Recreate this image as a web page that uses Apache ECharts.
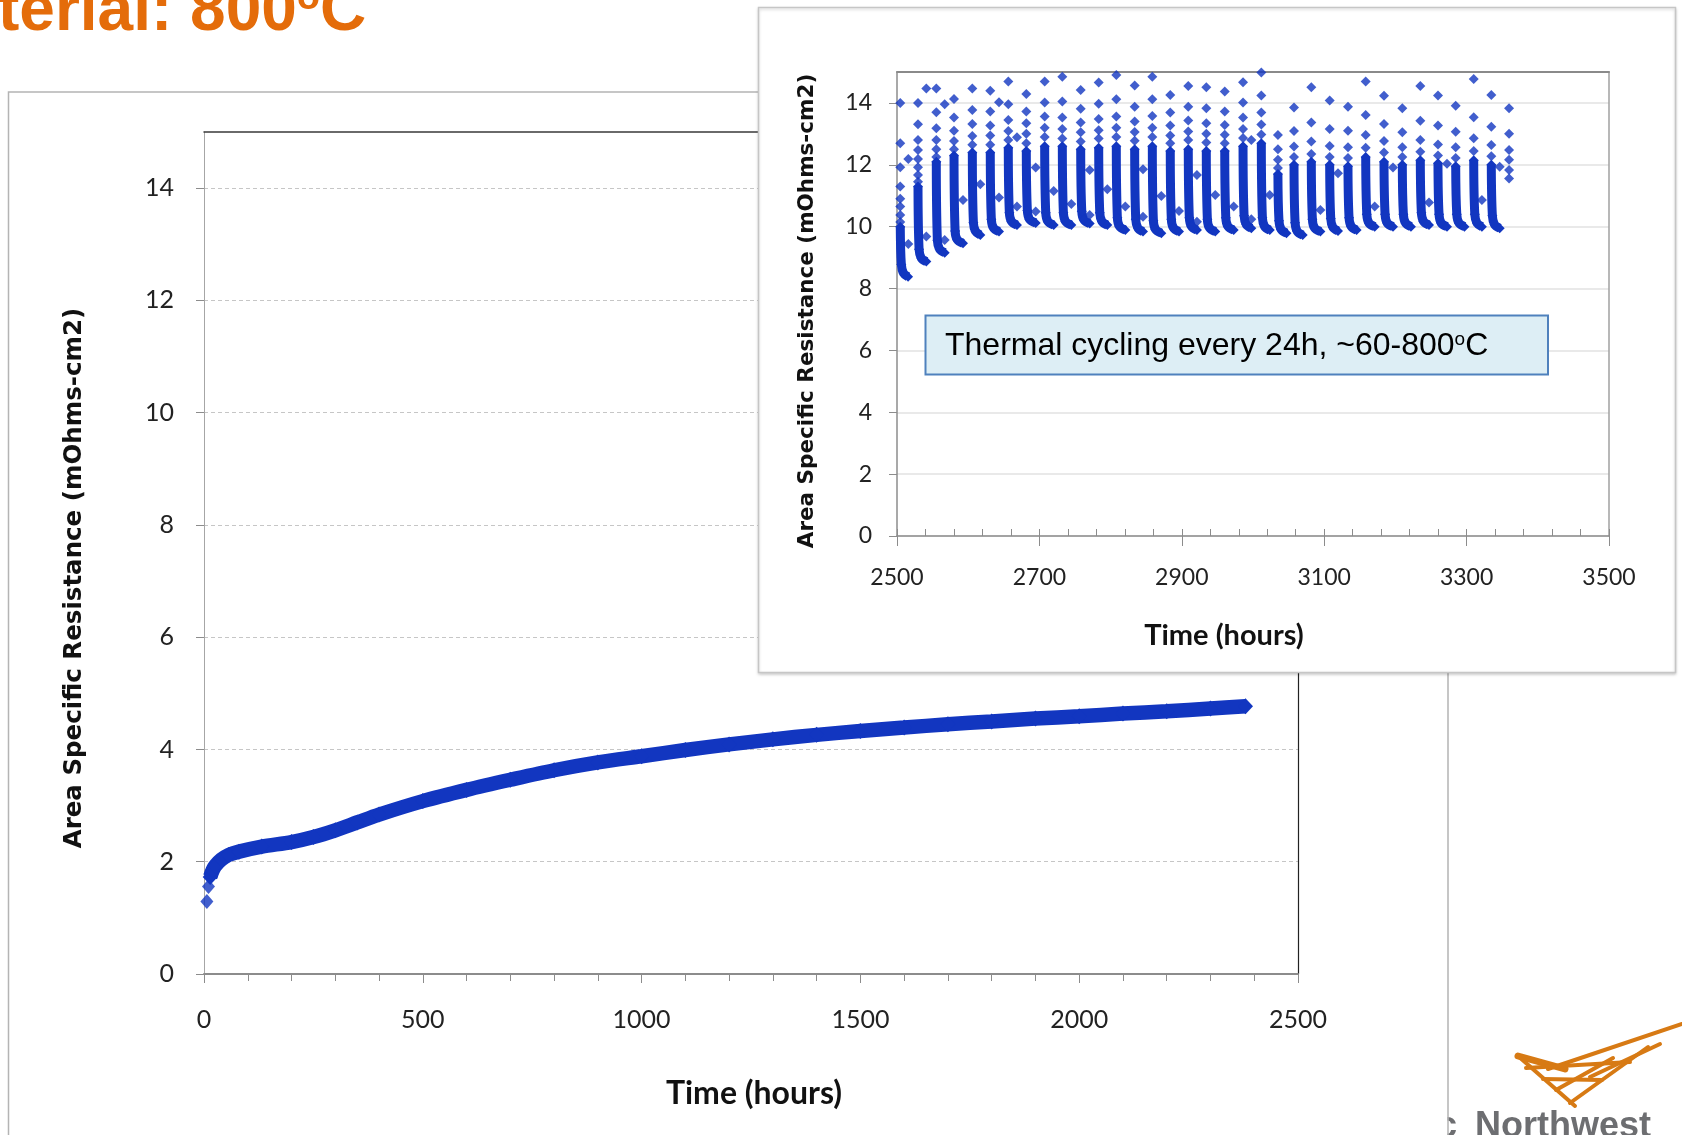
<!DOCTYPE html>
<html><head><meta charset="utf-8">
<script src="https://cdn.jsdelivr.net/npm/echarts@6/dist/echarts.min.js"></script>
<style>html,body{margin:0;padding:0;background:#fff}#c{width:1682px;height:1135px}</style>
</head><body><div id="c"></div>
<script>
// ---------------- DATA ----------------
// Main chart: ASR vs time (hours), isothermal 800C
const mainTime = [6.6, 10.3, 14.2, 20, 26, 40, 56, 80, 132, 200, 250, 300, 350, 400, 500, 600, 700, 800, 900, 1000, 1100, 1200, 1300, 1400, 1500, 1600, 1700, 1800, 1900, 2000, 2100, 2200, 2300, 2380];
const mainASR  = [1.29, 1.56, 1.73, 1.85, 1.93, 2.04, 2.12, 2.18, 2.27, 2.35, 2.44, 2.56, 2.70, 2.84, 3.08, 3.28, 3.46, 3.63, 3.77, 3.88, 3.99, 4.09, 4.18, 4.26, 4.33, 4.39, 4.45, 4.50, 4.55, 4.59, 4.64, 4.68, 4.73, 4.77];

// Inset: thermal cycling. Start time of each cycle (hours)
const cycleStart = [2504.6, 2529.5, 2555.2, 2580.1, 2605.8, 2631.0, 2656.3, 2681.6, 2707.4, 2732.2, 2758.0, 2783.3, 2808.0, 2833.8, 2858.6, 2883.8, 2909.1, 2934.4, 2960.3, 2986.0, 3011.7, 3035.0, 3057.6, 3081.9, 3107.7, 3133.4, 3158.3, 3184.0, 3209.7, 3235.0, 3259.8, 3284.7, 3310.0, 3334.7, 3359.6];
// Separate (upper) readings at the start of each cycle
const cyclePeaks = [
  [14.0, 12.7, 11.92, 11.3, 10.9, 10.65, 10.38, 10.15],
  [14.0, 13.31, 12.8, 12.48, 12.19, 11.92, 11.67, 11.45],
  [14.47, 13.7, 13.18, 12.8, 12.5, 12.25],
  [14.13, 13.53, 13.1, 12.77, 12.5],
  [14.47, 13.77, 13.32, 12.93, 12.65],
  [14.39, 13.72, 13.27, 12.95, 12.65],
  [14.69, 13.96, 13.45, 13.09, 12.8],
  [14.29, 13.72, 13.34, 13.0, 12.7],
  [14.69, 14.01, 13.56, 13.2, 12.9],
  [14.85, 14.05, 13.53, 13.16, 12.85],
  [14.42, 13.81, 13.37, 13.05, 12.75],
  [14.66, 13.97, 13.48, 13.12, 12.85],
  [14.9, 14.12, 13.56, 13.2, 12.9],
  [14.56, 13.88, 13.4, 13.06, 12.78],
  [14.85, 14.12, 13.58, 13.2, 12.9],
  [14.26, 13.69, 13.27, 12.95, 12.7],
  [14.55, 13.88, 13.43, 13.08, 12.8],
  [14.51, 13.83, 13.34, 13.0, 12.72],
  [14.37, 13.72, 13.29, 12.97, 12.7],
  [14.67, 14.01, 13.53, 13.16, 12.87],
  [14.98, 14.24, 13.69, 13.3, 12.98],
  [12.96, 12.5, 12.16, 11.9],
  [13.85, 13.09, 12.59, 12.25],
  [14.51, 13.37, 12.75, 12.35],
  [14.08, 13.16, 12.61, 12.25],
  [13.88, 13.1, 12.57, 12.22],
  [14.69, 13.61, 12.96, 12.55],
  [14.23, 13.32, 12.77, 12.4],
  [13.83, 13.05, 12.57, 12.25],
  [14.55, 13.42, 12.8, 12.42],
  [14.24, 13.27, 12.66, 12.3],
  [13.91, 13.07, 12.57, 12.22],
  [14.77, 13.54, 12.86, 12.45],
  [14.26, 13.23, 12.64, 12.28],
  [13.83, 13.0, 12.48, 12.16, 11.83, 11.56]
];
// Densely sampled decay of each cycle: [time, ASR]
const cycleTrail = [
  [[2504.6,10.0],[2506.1,8.78],[2509.1,8.5],[2515.5,8.38]],
  [[2529.5,11.3],[2531.0,9.27],[2534.0,8.99],[2541.2,8.87]],
  [[2555.2,12.1],[2556.7,9.56],[2559.7,9.28],[2567.0,9.16]],
  [[2580.1,12.3],[2581.6,9.86],[2584.6,9.58],[2592.7,9.46]],
  [[2605.8,12.4],[2607.3,10.13],[2610.3,9.85],[2617.0,9.73]],
  [[2631.0,12.4],[2632.5,10.24],[2635.5,9.96],[2643.3,9.84]],
  [[2656.3,12.55],[2657.8,10.45],[2660.8,10.17],[2668.5,10.05]],
  [[2681.6,12.45],[2683.1,10.52],[2686.1,10.24],[2694.8,10.12]],
  [[2707.4,12.6],[2708.9,10.45],[2711.9,10.17],[2720.1,10.05]],
  [[2732.2,12.6],[2733.7,10.45],[2736.7,10.17],[2744.8,10.05]],
  [[2758.0,12.5],[2759.5,10.5],[2762.5,10.22],[2770.6,10.1]],
  [[2783.3,12.55],[2784.8,10.45],[2787.8,10.17],[2795.4,10.05]],
  [[2808.0,12.6],[2809.5,10.29],[2812.5,10.01],[2820.7,9.89]],
  [[2833.8,12.5],[2835.3,10.24],[2838.3,9.96],[2845.5,9.84]],
  [[2858.6,12.6],[2860.1,10.19],[2863.1,9.91],[2871.2,9.79]],
  [[2883.8,12.45],[2885.3,10.24],[2888.3,9.96],[2896.1,9.84]],
  [[2909.1,12.5],[2910.6,10.29],[2913.6,10.01],[2921.3,9.89]],
  [[2934.4,12.45],[2935.9,10.24],[2938.9,9.96],[2947.0,9.84]],
  [[2960.3,12.45],[2961.8,10.29],[2964.8,10.01],[2972.9,9.89]],
  [[2986.0,12.6],[2987.5,10.35],[2990.5,10.07],[2997.6,9.95]],
  [[3011.7,12.7],[3013.2,10.29],[3016.2,10.01],[3023.5,9.89]],
  [[3035.0,11.7],[3036.5,10.19],[3039.5,9.91],[3047.0,9.79]],
  [[3057.6,12.0],[3059.1,10.13],[3062.1,9.85],[3069.8,9.73]],
  [[3081.9,12.1],[3083.4,10.24],[3086.4,9.96],[3094.6,9.84]],
  [[3107.7,12.0],[3109.2,10.26],[3112.2,9.98],[3119.4,9.86]],
  [[3133.4,11.95],[3134.9,10.29],[3137.9,10.01],[3145.5,9.89]],
  [[3158.3,12.25],[3159.8,10.4],[3162.8,10.12],[3170.9,10.0]],
  [[3184.0,12.1],[3185.5,10.4],[3188.5,10.12],[3196.6,10.0]],
  [[3209.7,12.0],[3211.2,10.4],[3214.2,10.12],[3221.8,10.0]],
  [[3235.0,12.15],[3236.5,10.45],[3239.5,10.17],[3247.2,10.05]],
  [[3259.8,12.05],[3261.3,10.4],[3264.3,10.12],[3272.5,10.0]],
  [[3284.7,11.95],[3286.2,10.4],[3289.2,10.12],[3297.0,10.0]],
  [[3310.0,12.15],[3311.5,10.4],[3314.5,10.12],[3321.5,10.0]],
  [[3334.7,12.0],[3336.2,10.35],[3339.2,10.07],[3346.5,9.95]]
];
// Isolated readings between cycles
const isolatedTime = [2515.9, 2515.9, 2541.2, 2541.2, 2567.0, 2567.0, 2592.7, 2617.0, 2643.3, 2643.3, 2668.5, 2668.5, 2694.8, 2694.8, 2720.1, 2744.8, 2770.6, 2770.6, 2795.4, 2820.7, 2845.5, 2845.5, 2871.2, 2896.1, 2921.3, 2921.3, 2947.0, 2972.9, 2997.6, 2997.6, 3023.5, 3094.6, 3119.4, 3170.9, 3196.6, 3247.2, 3272.5, 3321.5, 3346.5];
const isolatedASR  = [12.19, 9.44, 14.47, 9.68, 13.96, 9.57, 10.86, 11.37, 14.02, 10.94, 12.89, 10.65, 11.91, 10.49, 11.15, 10.73, 11.83, 10.38, 11.21, 10.65, 11.86, 10.32, 10.99, 10.51, 11.67, 10.16, 11.02, 10.65, 12.8, 10.24, 11.02, 10.54, 11.73, 10.65, 11.91, 10.78, 12.03, 10.86, 11.94];

const yTicks = [0, 2, 4, 6, 8, 10, 12, 14];
const titleText = 'terial: 800';
const noteText = 'Thermal cycling every 24h, ~60-800';
const xTitle = 'Time (hours)';
const yTitle = 'Area Specific Resistance (mOhms-cm2)';

// ---------------- CHART ----------------
const BLUE = '#1236c0';
const GRAYAX = '#8c8c8c';
const chart = echarts.init(document.getElementById('c'), null, {renderer: 'canvas', width: 1682, height: 1135});

const mainPts = mainTime.map((t, i) => [t, mainASR[i]]);
const peakPts = [];
cyclePeaks.forEach((vals, i) => vals.forEach(v => peakPts.push([cycleStart[i], v])));
const isoPts = isolatedTime.map((t, i) => [t, isolatedASR[i]]);

const trailSeries = cycleTrail.map(tr => ({
  type: 'line', xAxisIndex: 2, yAxisIndex: 2, zlevel: 1, z: 5, data: tr,
  smooth: 0.35, symbol: 'diamond', symbolSize: 10, showAllSymbol: true,
  lineStyle: {width: 9, color: BLUE}, itemStyle: {color: BLUE}, silent: true
}));

const plain = v => String(v);
const labelFont = 'Lato';
const option = {
  animation: false,
  backgroundColor: '#ffffff',
  grid: [
    {left: 204, top: 132, width: 1094, height: 842},
    {left: 897, top: 72, width: 712, height: 464, zlevel: 1, z: 2},
    {left: 897, top: 72, width: 712, height: 464, zlevel: 1, z: 2}
  ],
  xAxis: [
    {gridIndex: 0, type: 'value', min: 0, max: 2500, interval: 500, position: 'bottom',
     axisLine: {onZero: false, lineStyle: {color: GRAYAX, width: 2}},
     axisTick: {length: 9, lineStyle: {color: GRAYAX}},
     minorTick: {show: true, splitNumber: 5, length: 7, lineStyle: {color: GRAYAX}},
     splitLine: {show: false},
     axisLabel: {margin: 33, fontSize: 25, fontFamily: labelFont, color: '#222', formatter: plain}},
    {gridIndex: 0, type: 'value', min: 0, max: 2500, position: 'top',
     axisLine: {onZero: false, lineStyle: {color: '#3a3a3a', width: 1.5}}, axisTick: {show: false}, axisLabel: {show: false}, splitLine: {show: false}},
    {gridIndex: 1, type: 'value', min: 2500, max: 3500, interval: 200, position: 'bottom', zlevel: 1, z: 3,
     axisLine: {onZero: false, lineStyle: {color: GRAYAX, width: 1.5}},
     axisTick: {inside: true, length: 7, lineStyle: {color: GRAYAX}},
     minorTick: {show: true, splitNumber: 5, length: 7, lineStyle: {color: GRAYAX}},
     splitLine: {show: false},
     axisLabel: {margin: 30, fontSize: 23, fontFamily: labelFont, color: '#222', formatter: plain}},
    {gridIndex: 1, type: 'value', min: 2500, max: 3500, position: 'top', zlevel: 1, z: 3,
     axisLine: {onZero: false, lineStyle: {color: '#8a8a8a', width: 2}}, axisTick: {show: false}, axisLabel: {show: false}, splitLine: {show: false}},
    {gridIndex: 2, type: 'value', min: 2500, max: 3500, interval: 200, position: 'bottom', zlevel: 1, z: 3,
     axisLine: {show: false, onZero: false}, axisTick: {length: 10, lineStyle: {color: GRAYAX}}, axisLabel: {show: false}, splitLine: {show: false}}
  ],
  yAxis: [
    {gridIndex: 0, type: 'value', min: 0, max: 15, interval: 2, position: 'left',
     axisLine: {show: true, onZero: false, lineStyle: {color: '#a6a6a6', width: 1}},
     axisTick: {show: true, length: 8, lineStyle: {color: GRAYAX}, customValues: yTicks},
     axisLabel: {margin: 30, fontSize: 25, fontFamily: labelFont, color: '#222', customValues: yTicks},
     splitLine: {show: true, lineStyle: {color: '#c6c6c6', type: [4, 3]}}},
    {gridIndex: 0, type: 'value', min: 0, max: 15, position: 'right',
     axisLine: {show: true, onZero: false, lineStyle: {color: '#222', width: 1.2}}, axisTick: {show: false}, axisLabel: {show: false}, splitLine: {show: false}},
    {gridIndex: 1, type: 'value', min: 0, max: 15, interval: 2, position: 'left', zlevel: 1, z: 3,
     axisLine: {show: true, onZero: false, lineStyle: {color: GRAYAX, width: 1.5}},
     axisTick: {show: true, length: 8, lineStyle: {color: GRAYAX}, customValues: yTicks},
     axisLabel: {margin: 25, fontSize: 23, fontFamily: labelFont, color: '#222', customValues: yTicks},
     splitLine: {show: true, lineStyle: {color: '#e2e2e2', width: 1.5}}},
    {gridIndex: 1, type: 'value', min: 0, max: 15, position: 'right', zlevel: 1, z: 3,
     axisLine: {show: true, onZero: false, lineStyle: {color: '#a0a0a0', width: 1.5}}, axisTick: {show: false}, axisLabel: {show: false}, splitLine: {show: false}},
    {gridIndex: 2, type: 'value', min: 0, max: 15, show: false}
  ],
  series: [
    {type: 'scatter', xAxisIndex: 0, yAxisIndex: 0, data: mainPts.slice(0, 2),
     symbol: 'diamond', symbolSize: [13, 15], itemStyle: {color: BLUE}},
    {type: 'line', xAxisIndex: 0, yAxisIndex: 0, data: mainPts.slice(2), smooth: 0.3,
     symbol: 'diamond', symbolSize: [15, 16], showAllSymbol: true,
     lineStyle: {width: 14.5, color: BLUE}, itemStyle: {color: BLUE}},
    {type: 'scatter', xAxisIndex: 2, yAxisIndex: 2, zlevel: 1, z: 6, data: peakPts,
     symbol: 'diamond', symbolSize: 10, itemStyle: {color: BLUE}},
    {type: 'scatter', xAxisIndex: 2, yAxisIndex: 2, zlevel: 1, z: 6, data: isoPts,
     symbol: 'diamond', symbolSize: 10, itemStyle: {color: BLUE}}
  ].concat(trailSeries),
  graphic: [
    // slide title (cut off at the edge)
    {type: 'text', zlevel: 0, z: 50, style: {
      x: -2, y: 12, verticalAlign: 'middle', align: 'left',
      text: '{a|' + titleText + '}{s|o}{a|C}',
      rich: {
        a: {fontSize: 64, fontWeight: 'bold', fontFamily: 'Liberation Sans', fill: '#E46C0A'},
        s: {fontSize: 38, fontWeight: 'bold', fontFamily: 'Liberation Sans', fill: '#E46C0A', verticalAlign: 'top'}
      }}},
    // main chart frame
    {type: 'rect', zlevel: 0, z: 40, shape: {x: 8.5, y: 92, width: 1439.5, height: 1100},
     style: {fill: 'none', stroke: '#b4b4b4', lineWidth: 1.5}},
    // main axis titles
    {type: 'text', zlevel: 0, z: 50, x: 75, y: 578, rotation: Math.PI / 2,
     style: {text: yTitle, align: 'center', verticalAlign: 'middle', fontSize: 24.5, fontWeight: 'bold', fontFamily: 'DejaVu Sans', fill: '#111'}},
    {type: 'text', zlevel: 0, z: 50, style: {x: 754, y: 1094, text: xTitle, align: 'center', verticalAlign: 'middle', fontSize: 32, fontWeight: 'bold', fontFamily: 'Lato', fill: '#111'}},
    // logo
    {type: 'text', zlevel: 0, z: 30, style: {x: 1457, y: 1109, text: 'Pacific', align: 'right', verticalAlign: 'top', fontSize: 36, fontWeight: 'bold', fontFamily: 'Liberation Sans', fill: '#6D6E71'}},
    {type: 'rect', zlevel: 0, z: 35, shape: {x: 1300, y: 1100, width: 147.5, height: 40}, style: {fill: '#fff'}},
    {type: 'text', zlevel: 0, z: 30, style: {x: 1475, y: 1109, text: 'Northwest', align: 'left', verticalAlign: 'top', fontSize: 36, fontWeight: 'bold', fontFamily: 'Liberation Sans', fill: '#6D6E71'}},
    {type: 'group', zlevel: 0, z: 30, children: [
      [[1518,1056],[1565,1069]], [[1548,1069],[1682,1024]], [[1526,1068],[1630,1062]], [[1543,1079],[1602,1080]],
      [[1518,1056],[1575,1106]], [[1556,1090],[1613,1058]], [[1570,1103],[1648,1047]], [[1590,1077],[1660,1044]]
    ].map((p, i) => ({type: 'polyline', shape: {points: p}, style: {stroke: '#D77A14', lineWidth: i === 0 ? 7 : 4, lineCap: 'round'}}))},
    // inset box
    {type: 'rect', zlevel: 1, z: 0, shape: {x: 758.5, y: 7.5, width: 917, height: 665},
     style: {fill: '#ffffff', stroke: '#c6c6c6', lineWidth: 1.5, shadowBlur: 3, shadowColor: 'rgba(0,0,0,0.18)', shadowOffsetY: 1.5}},
    {type: 'text', zlevel: 1, z: 20, x: 807, y: 311, rotation: Math.PI / 2,
     style: {text: yTitle, align: 'center', verticalAlign: 'middle', fontSize: 21.5, fontWeight: 'bold', fontFamily: 'DejaVu Sans', fill: '#111'}},
    {type: 'text', zlevel: 1, z: 20, style: {x: 1224, y: 636, text: xTitle, align: 'center', verticalAlign: 'middle', fontSize: 29, fontWeight: 'bold', fontFamily: 'Lato', fill: '#111'}},
    // annotation box
    {type: 'rect', zlevel: 1, z: 20, shape: {x: 925.5, y: 315.5, width: 622.5, height: 59},
     style: {fill: '#DDEEF5', stroke: '#4F81BD', lineWidth: 2}},
    {type: 'text', zlevel: 1, z: 21, style: {
      x: 945, y: 346, align: 'left', verticalAlign: 'middle',
      text: '{a|' + noteText + '}{s|o}{a|C}',
      rich: {
        a: {fontSize: 32, fontFamily: 'Liberation Sans', fill: '#000'},
        s: {fontSize: 19, fontFamily: 'Liberation Sans', fill: '#000', verticalAlign: 'top'}
      }}}
  ]
};
chart.setOption(option);
</script></body></html>
